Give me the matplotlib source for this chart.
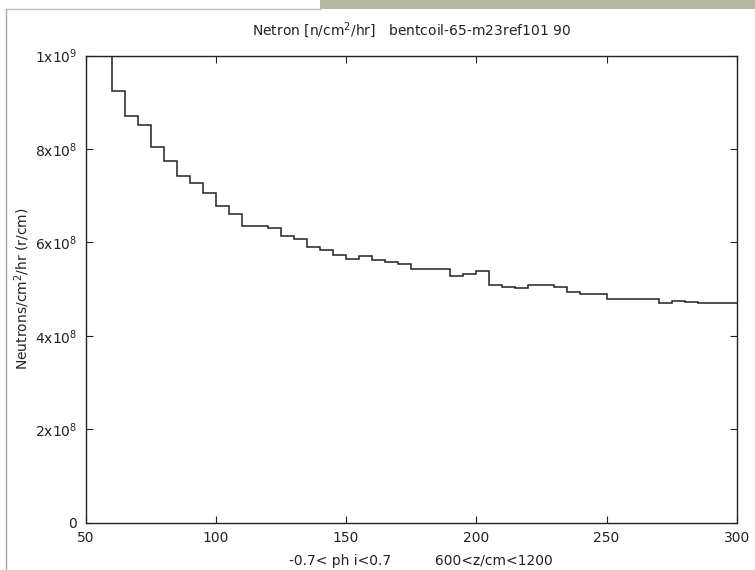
import numpy as np
from matplotlib import pyplot as plt
from matplotlib.patches import Rectangle
from matplotlib.lines import Line2D

## HISTOGRAM DATA
edges = [50] + list(range(60, 305, 5))
flux = [1.15e9,
        9.25e8, 8.70e8, 8.52e8, 8.04e8, 7.74e8, 7.43e8, 7.28e8, 7.07e8,
        6.78e8, 6.60e8, 6.35e8, 6.35e8, 6.32e8, 6.14e8, 6.07e8, 5.91e8,
        5.84e8, 5.73e8, 5.65e8, 5.71e8, 5.63e8, 5.58e8, 5.53e8, 5.43e8,
        5.43e8, 5.43e8, 5.28e8, 5.33e8, 5.38e8, 5.08e8, 5.05e8, 5.03e8,
        5.08e8, 5.08e8, 5.05e8, 4.95e8, 4.90e8, 4.90e8, 4.79e8, 4.79e8,
        4.79e8, 4.79e8, 4.70e8, 4.75e8, 4.72e8, 4.70e8, 4.70e8, 4.70e8]

xticks = [50, 100, 150, 200, 250, 300]
yticks = [0, 2e8, 4e8, 6e8, 8e8, 1e9]
ylabels = ['0', '2x10$^8$', '4x10$^8$', '6x10$^8$', '8x10$^8$', '1x10$^9$']

title = 'Netron [n/cm$^2$/hr]   bentcoil-65-m23ref101 90'
xlabel = '-0.7< ph i<0.7          600<z/cm<1200'
ylabel = 'Neutrons/cm$^2$/hr (r/cm)'

W, H = 755, 570

# Plotting
fig = plt.figure(figsize=(W / 100, H / 100), dpi=100)
ax = fig.add_axes([85.7 / W, 1 - 522.7 / H, (736.7 - 85.7) / W, (522.7 - 55.7) / H])

ax.stairs(flux, edges, baseline=None, color='#222222', linewidth=1.1)

ax.set_xlim(50, 300)
ax.set_ylim(0, 1e9)
ax.set_xticks(xticks)
ax.set_yticks(yticks)
ax.set_yticklabels(ylabels)
ax.tick_params(direction='in', length=5, width=0.8, top=True, right=True,
               labelsize=10, colors='#222222', pad=6)
for s in ax.spines.values():
    s.set_linewidth(1.0)
    s.set_color('#222222')

fig.text(0.5 * (85.7 + 736.7) / W, 1 - 30 / H, title, ha='center', va='center',
         fontsize=10, color='#222222')
fig.text(421 / W, 1 - 561 / H, xlabel, ha='center', va='center',
         fontsize=10, color='#222222')
fig.text(22 / W, 1 - 289 / H, ylabel, ha='center', va='center',
         rotation=90, fontsize=10, color='#222222')

# screenshot frame bits
fig.add_artist(Line2D([6 / W, 6 / W], [0, 1 - 9 / H], color='#aaaaaa', lw=1))
fig.add_artist(Line2D([6 / W, 320 / W], [1 - 9 / H, 1 - 9 / H], color='#bbbbbb', lw=1))
fig.add_artist(Rectangle((320 / W, 1 - 9 / H), 1 - 320 / W, 9 / H,
                         transform=fig.transFigure, color='#b8b89c', lw=0))

plt.savefig('out.png', dpi=100)
